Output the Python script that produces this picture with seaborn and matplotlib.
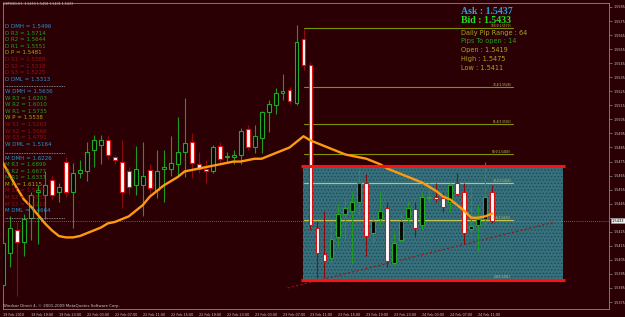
import matplotlib
matplotlib.use('Agg')
import matplotlib.pyplot as plt
import matplotlib.transforms as mtransforms
import seaborn as sns
import pandas as pd
import numpy as np

# ---------------- data ----------------
open_ = [1.5387, 1.5410, 1.5426, 1.5418, 1.5435, 1.5453, 1.5451, 1.5462, 1.5453, 1.5475,
         1.5453, 1.5467, 1.5468, 1.5483, 1.5487, 1.5490, 1.5478, 1.5475, 1.5468, 1.5458,
         1.5458, 1.5469, 1.5455, 1.5470, 1.5470, 1.5473, 1.5482, 1.5489, 1.5473, 1.5470,
         1.5468, 1.5486, 1.5478, 1.5478, 1.5480, 1.5498, 1.5485, 1.5492, 1.5510, 1.5515,
         1.5524, 1.5526, 1.5517, 1.5562, 1.5544, 1.5428, 1.5409, 1.5406, 1.5421, 1.5438,
         1.5440, 1.5446, 1.5460, 1.5424, 1.5434, 1.5442, 1.5403, 1.5419, 1.5435, 1.5441,
         1.5430, 1.5449, 1.5450, 1.5449, 1.5446, 1.5460, 1.5453, 1.5427, 1.5430, 1.5434,
         1.5453]
high = [1.5419, 1.5436, 1.5432, 1.5438, 1.5453, 1.5458, 1.5468, 1.5465, 1.5460, 1.5478,
        1.5474, 1.5476, 1.5489, 1.5494, 1.5494, 1.5493, 1.5480, 1.5490, 1.5471, 1.5486,
        1.5489, 1.5473, 1.5483, 1.5483, 1.5493, 1.5507, 1.5520, 1.5495, 1.5482, 1.5476,
        1.5487, 1.5489, 1.5482, 1.5483, 1.5499, 1.5501, 1.5501, 1.5511, 1.5519, 1.5527,
        1.5537, 1.5528, 1.5572, 1.5569, 1.5546, 1.5433, 1.5440, 1.5432, 1.5445, 1.5449,
        1.5453, 1.5470, 1.5466, 1.5437, 1.5453, 1.5446, 1.5425, 1.5439, 1.5446, 1.5446,
        1.5453, 1.5460, 1.5460, 1.5453, 1.5460, 1.5467, 1.5460, 1.5457, 1.5444, 1.5475,
        1.5458]
low = [1.5384, 1.5400, 1.5379, 1.5408, 1.5419, 1.5416, 1.5434, 1.5448, 1.5446, 1.5450,
       1.5428, 1.5463, 1.5461, 1.5471, 1.5473, 1.5477, 1.5473, 1.5442, 1.5452, 1.5451,
       1.5436, 1.5452, 1.5449, 1.5446, 1.5465, 1.5465, 1.5464, 1.5463, 1.5467, 1.5460,
       1.5467, 1.5474, 1.5475, 1.5473, 1.5473, 1.5483, 1.5481, 1.5481, 1.5496, 1.5509,
       1.5519, 1.5516, 1.5515, 1.5540, 1.5426, 1.5392, 1.5392, 1.5403, 1.5414, 1.5419,
       1.5403, 1.5437, 1.5408, 1.5416, 1.5429, 1.5400, 1.5401, 1.5418, 1.5432, 1.5421,
       1.5426, 1.5444, 1.5446, 1.5439, 1.5439, 1.5451, 1.5416, 1.5422, 1.5411, 1.5430,
       1.5431]
close = [1.5417, 1.5428, 1.5418, 1.5434, 1.5451, 1.5455, 1.5458, 1.5451, 1.5457, 1.5453,
         1.5467, 1.5469, 1.5482, 1.5490, 1.5490, 1.5480, 1.5476, 1.5453, 1.5457, 1.5470,
         1.5465, 1.5456, 1.5468, 1.5471, 1.5474, 1.5482, 1.5488, 1.5474, 1.5470, 1.5468,
         1.5485, 1.5477, 1.5479, 1.5480, 1.5497, 1.5485, 1.5493, 1.5510, 1.5516, 1.5524,
         1.5525, 1.5518, 1.5560, 1.5544, 1.5430, 1.5410, 1.5404, 1.5420, 1.5438, 1.5442,
         1.5446, 1.5460, 1.5422, 1.5433, 1.5440, 1.5404, 1.5417, 1.5433, 1.5442, 1.5428,
         1.5450, 1.5450, 1.5448, 1.5443, 1.5458, 1.5452, 1.5424, 1.5429, 1.5434, 1.5450,
         1.5433]
ma = [1.5474, 1.5465, 1.5456, 1.5448, 1.5443, 1.5437, 1.5431, 1.5426, 1.5422, 1.5421,
      1.5421, 1.5422, 1.5424, 1.5426, 1.5428, 1.5431, 1.5432, 1.5434, 1.5436, 1.5440,
      1.5444, 1.5450, 1.5454, 1.5458, 1.5461, 1.5464, 1.5468, 1.5469, 1.5470, 1.5471,
      1.5472, 1.5473, 1.5474, 1.5475, 1.5475, 1.5476, 1.5477, 1.5477, 1.5479, 1.5481,
      1.5483, 1.5485, 1.5489, 1.5493, 1.5490, 1.5488, 1.5486, 1.5484, 1.5482, 1.5480,
      1.5479, 1.5478, 1.5477, 1.5475, 1.5473, 1.5470, 1.5468, 1.5466, 1.5464, 1.5462,
      1.5460, 1.5457, 1.5454, 1.5450, 1.5448, 1.5444, 1.5440, 1.5435, 1.5435, 1.5436,
      1.5438]

date_labels = ["19 Feb 2010", "19 Feb 19:00", "19 Feb 23:00", "22 Feb 03:00", "22 Feb 07:00",
               "22 Feb 11:00", "22 Feb 15:00", "22 Feb 19:00", "22 Feb 23:00", "23 Feb 03:00",
               "23 Feb 07:00", "23 Feb 11:00", "23 Feb 15:00", "23 Feb 19:00", "23 Feb 23:00",
               "24 Feb 03:00", "24 Feb 07:00", "24 Feb 11:00"]
date_step = 4
price_ticks = [round(1.5375 + 0.001 * k, 4) for k in range(22)]

bid = 1.5433
ask = 1.5437
day_open, day_high, day_low = 1.5419, 1.5475, 1.5411

box_low, box_high = 1.5391, 1.5472
box_start, box_end = 42.6, 80.4
fib_low, fib_high = 1.5391, 1.5570
fib_levels = [0.0, 23.6, 38.2, 50.0, 61.8, 76.4, 100.0]
fib_start, fib_end = 43.0, 73.0
trend_idx = [40.7, 79.0]
trend_price = [1.5385, 1.5432]

piv_names = ['DMH', 'R3', 'R2', 'R1', 'P', 'S1', 'S2', 'S3', 'DML']
d_values = [1.5496, 1.5714, 1.5644, 1.5551, 1.5481, 1.5388, 1.5318, 1.5225, 1.5313]
w_values = [1.5636, 1.6203, 1.6010, 1.5735, 1.5538, 1.5263, 1.5066, 1.4791, 1.5164]
m_values = [1.6226, 1.6899, 1.6677, 1.6337, 1.6115, 1.5775, 1.5553, 1.5213, 1.4664]

# ---------------- style ----------------
sns.set_theme(style='dark')
plt.rcParams['font.family'] = ['DejaVu Sans']
plt.rcParams['hatch.linewidth'] = 0.6
BG = '#2a0005'
GRID = '#7f8f88'

W, H = 625, 317
fig = plt.figure(figsize=(W / 100, H / 100), dpi=100, facecolor=BG)
ax = fig.add_axes([3 / W, 8 / H, 606 / W, 306 / H])
ax.set_facecolor(BG)
ax.grid(False)

n = len(open_)
idx = np.arange(n)
o = np.array(open_); c = np.array(close); h = np.array(high); l = np.array(low)
bull = c >= o

# box (range) fill
ax.fill_between([box_start + 0.3, box_end - 0.3], box_low, box_high, facecolor='#36707c',
                edgecolor='#1e4a55', hatch='.....', linewidth=0, zorder=1)

# fib lines
for lv in fib_levels:
    p = fib_low + (fib_high - fib_low) * lv / 100.0
    col = '#c4c450' if 15 < lv < 45 else '#7f9400'
    ax.plot([fib_start, fib_end], [p, p], color=col, lw=0.8, zorder=2)
    ax.text(fib_end - 0.3, p + 0.00002, f"{lv:.1f}({p:.4f})", fontsize=2.1,
            color='#c8c860', ha='right', va='bottom', zorder=6)

# current price dotted line
ax.axhline(bid, color='#6f8a8a', lw=0.6, ls=(0, (1, 1.5)), zorder=2)

# trend line
ax.plot(trend_idx, trend_price, color='#a01010', lw=0.8, ls=(0, (2, 2)), zorder=2)

# candles: wicks
ax.vlines(idx[bull], l[bull], h[bull], color='#1f9a1f', lw=0.8, zorder=3)
ax.vlines(idx[~bull], l[~bull], h[~bull], color='#8a0c0c', lw=0.8, zorder=3)
# bodies
bw = 0.56
body_lo = np.minimum(o, c)
body_h = np.maximum(np.abs(c - o), 0.00004)
ax.bar(idx[bull], body_h[bull], bottom=body_lo[bull], width=bw, color='#050505',
       edgecolor='#22aa22', linewidth=0.8, zorder=4)
ax.bar(idx[~bull], body_h[~bull], bottom=body_lo[~bull], width=bw, color='#ffffff',
       edgecolor='#dd1010', linewidth=0.8, zorder=4)

# moving average with seaborn
df_ma = pd.DataFrame({'idx': idx, 'ma': ma})
sns.lineplot(data=df_ma, x='idx', y='ma', ax=ax, color='#ff9a10', linewidth=1.7, zorder=5)

# red box borders
ax.plot([box_start, box_end], [box_high, box_high], color='#ff1010', lw=2.2, zorder=6,
        solid_capstyle='butt')
ax.plot([box_start, box_end], [box_low, box_low], color='#ff1010', lw=2.2, zorder=6,
        solid_capstyle='butt')

# axes limits
ax.set_xlim((3 - 2) / 7, (609 - 2) / 7)
ax.set_ylim(1.5585 - 302 / 14050, 1.5585 + 4 / 14050)
ax.set_xlabel('')
ax.set_ylabel('')

# ticks
ax.set_xticks([date_step * k for k in range(len(date_labels))])
ax.set_xticklabels(date_labels, ha='left', fontsize=2.4, color='#c8c8c8')
ax.yaxis.tick_right()
ax.set_yticks(price_ticks)
ax.set_yticklabels(["" if abs(v - bid) < 0.0006 else f"{v:.4f}" for v in price_ticks],
                   fontsize=2.4, color='#c8c8c8')
ax.tick_params(axis='both', length=2, width=0.5, color=GRID, pad=1.0)
for s in ax.spines.values():
    s.set_color(GRID)
    s.set_linewidth(0.6)

# current price label on axis
tr = mtransforms.blended_transform_factory(ax.transAxes, ax.transData)
ax.text(1.004, bid, f"{bid:.4f}", transform=tr, fontsize=2.6, color='#000000', va='center',
        ha='left', bbox=dict(boxstyle='square,pad=0.25', fc='#f0f0f0', ec='#a0a0a0', lw=0.4),
        zorder=10, clip_on=False)

# ---------------- texts ----------------
def ftext(x, y, s, **kw):
    fig.text(x / W, 1 - y / H, s, va='center', ha='left', **kw)

ftext(3, 4, f"GBPUSD,H1  {open_[-1]:.4f} {high[-1]:.4f} {low[-1]:.4f} {close[-1]:.4f}",
      fontsize=2.3, color='#c8c8c8')

col_map = {'DMH': '#2a92c8', 'DML': '#2a92c8', 'R3': '#22a022', 'R2': '#22a022',
           'R1': '#22a022', 'P': '#a8a812', 'S1': '#981010', 'S2': '#981010', 'S3': '#981010'}
for prefix, vals, y0, ysep in [('D', d_values, 26.5, 86), ('W', w_values, 91.5, 152.5),
                               ('M', m_values, 158, 217.5)]:
    for k, (nm, v) in enumerate(zip(piv_names, vals)):
        ftext(5, y0 + 6.6 * k, f"{prefix} {nm} = {v:.4f}", fontsize=4.0, color=col_map[nm])
    fig.add_artist(plt.Line2D([5 / W, 65 / W], [1 - ysep / H, 1 - ysep / H], color='#a0a8a8',
                              lw=0.6, ls=(0, (1, 1))))

ftext(461, 11, f"Ask : {ask:.4f}", fontsize=7.1, color='#20a4e4', fontweight='bold',
      family=['Liberation Serif', 'DejaVu Serif'])
ftext(461, 20.3, f"Bid : {bid:.4f}", fontsize=7.1, color='#22e022', fontweight='bold',
      family=['Liberation Serif', 'DejaVu Serif'])
pip_range = round((day_high - day_low) * 10000)
pips_open = round((bid - day_open) * 10000)
ftext(461, 32.5, f"Daily Pip Range : {pip_range}", fontsize=4.7, color='#a8a822')
ftext(461, 41.5, f"Pips To open : {pips_open}", fontsize=4.7, color='#22a022')
ftext(461, 50.3, f"Open : {day_open:.4f}", fontsize=4.7, color='#a8a822')
ftext(461, 59, f"High : {day_high:.4f}", fontsize=4.7, color='#a8a822')
ftext(461, 67.5, f"Low : {day_low:.4f}", fontsize=4.7, color='#a8a822')

ftext(3, 306, "Windsor Direct 4, \u00a9 2001-2009 MetaQuotes Software Corp.", fontsize=2.8,
      color='#c8c8c8')

fig.savefig('out.png', dpi=100, facecolor=BG)
